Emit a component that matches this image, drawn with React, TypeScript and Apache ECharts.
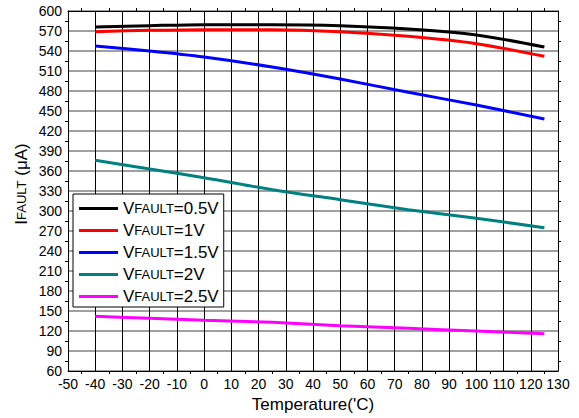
import React, { useEffect, useRef } from "react";
import * as echarts from "echarts";

const temps = [-40, -20, 0, 25, 50, 75, 100, 125];
const v05 = [576, 578, 579.5, 579.5, 578, 573, 564, 546];
const v1 = [569, 571, 572, 572, 569, 562, 551, 532];
const v15 = [547.5, 540, 531, 516, 498, 478, 459, 438];
const v2 = [376, 363, 350, 332, 317, 302, 289, 275];
const v25 = [142, 139, 136, 133, 128, 124, 120, 116];

const seriesNames = ["0.5V", "1V", "1.5V", "2V", "2.5V"];
const seriesValues = [v05, v1, v15, v2, v25];
const seriesColors = ["#000000", "#ff0000", "#0000ff", "#008080", "#ff00ff"];

const FONT = "'Liberation Sans', Arial, sans-serif";

export default function App() {
  const ref = useRef<HTMLDivElement>(null);
  useEffect(() => {
    if (!ref.current) return;
    const chart = echarts.init(ref.current, undefined, { renderer: "svg" });
    const axisBase = {
      type: "value" as const,
      axisLine: { show: true, onZero: false, lineStyle: { color: "#000", width: 1 } },
      axisTick: { show: false },
      minorTick: { show: true, splitNumber: 2, length: 3, lineStyle: { color: "#000" } },
    };
    chart.setOption({
      animation: false,
      textStyle: { fontFamily: FONT },
      grid: { left: 68, right: 21, top: 11, bottom: 47 },
      legend: {
        orient: "vertical",
        left: 73,
        top: 194,
        backgroundColor: "#fff",
        borderColor: "#000",
        borderWidth: 1,
        borderRadius: 0,
        padding: [6, 5, 2, 6],
        itemGap: 5,
        itemWidth: 39,
        itemHeight: 3,
        icon: "rect",
        data: seriesNames.map((n) => "V" + n),
        formatter: (name: string) => `{a|V}{b|FAULT}{a|=${name.slice(1)}}`,
        textStyle: {
          rich: {
            a: { fontSize: 17, fontFamily: FONT, color: "#000", lineHeight: 19 },
            b: { fontSize: 13, fontFamily: FONT, color: "#000", lineHeight: 19 },
          },
        },
      },
      xAxis: [
        {
          ...axisBase,
          min: -50,
          max: 130,
          interval: 10,
          position: "bottom",
          axisLabel: { fontSize: 14, color: "#000", margin: 6, fontFamily: FONT },
          splitLine: { show: true, lineStyle: { color: "#000", width: 1 } },
          name: "Temperature('C)",
          nameLocation: "middle",
          nameGap: 22,
          nameTextStyle: { fontSize: 17, color: "#000", fontFamily: FONT },
        },
        {
          ...axisBase,
          min: -50,
          max: 130,
          interval: 10,
          position: "top",
          axisLabel: { show: false },
          splitLine: { show: false },
        },
      ],
      yAxis: [
        {
          ...axisBase,
          min: 60,
          max: 600,
          interval: 30,
          position: "left",
          axisLabel: { fontSize: 14, color: "#000", margin: 6, fontFamily: FONT },
          splitLine: { show: true, lineStyle: { color: "#808080", width: 1.5 } },
        },
        {
          ...axisBase,
          min: 60,
          max: 600,
          interval: 30,
          position: "right",
          axisLabel: { show: false },
          splitLine: { show: false },
        },
      ],
      graphic: [
        {
          type: "text",
          x: 21,
          y: 184,
          rotation: Math.PI / 2,
          style: {
            text: "{a|I}{b|FAULT}{a| (μA)}",
            align: "center",
            verticalAlign: "middle",
            rich: {
              a: { fontSize: 17, fontFamily: FONT, fill: "#000" },
              b: { fontSize: 13, fontFamily: FONT, fill: "#000" },
            },
          },
        },
      ],
      series: seriesNames.map((n, i) => ({
        name: "V" + n,
        type: "line",
        symbol: "none",
        smooth: 0.3,
        lineStyle: { color: seriesColors[i], width: 3 },
        itemStyle: { color: seriesColors[i] },
        data: temps.map((t, j) => [t, seriesValues[i][j]]),
        z: 3,
      })),
    });
    return () => chart.dispose();
  }, []);
  return (
    <div
      ref={ref}
      style={{ width: 579, height: 418, position: "absolute", left: 0, top: 0 }}
    />
  );
}
